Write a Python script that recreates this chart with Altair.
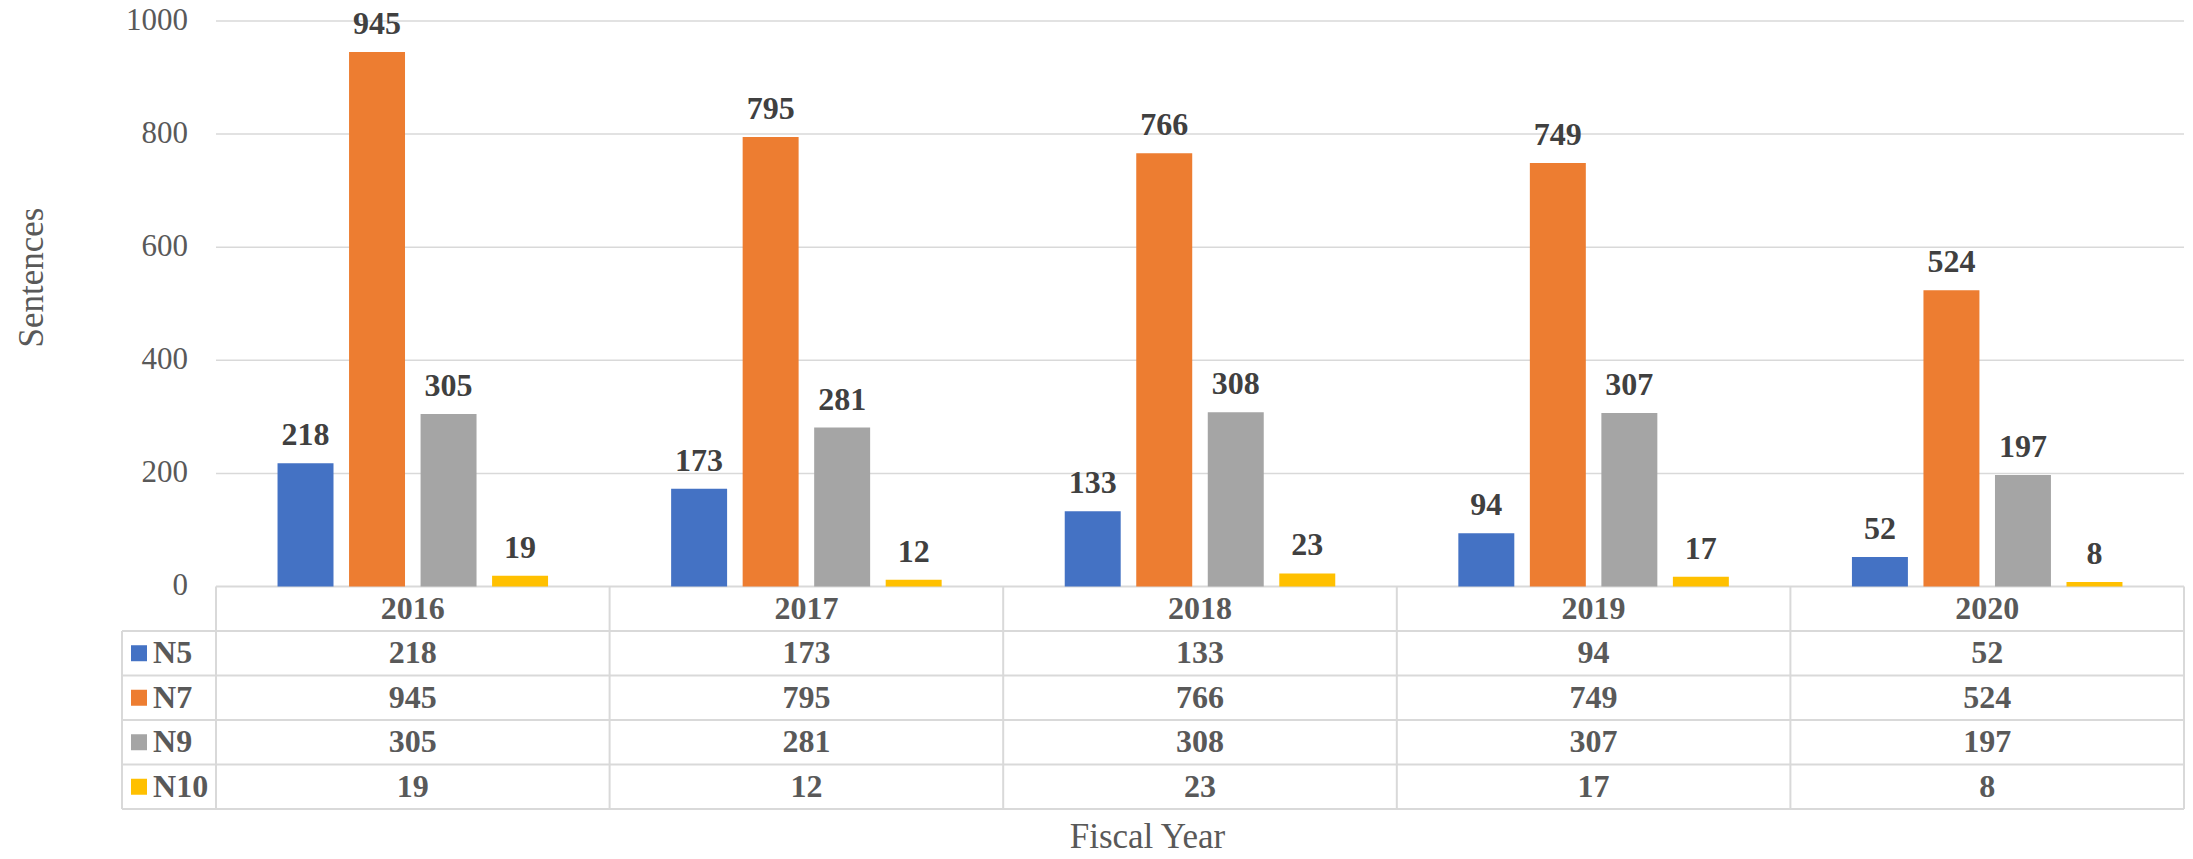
import altair as alt
import pandas as pd

# ---- data ----
years = ["2016", "2017", "2018", "2019", "2020"]
series = ["N5", "N7", "N9", "N10"]
n5 = [218, 173, 133, 94, 52]
n7 = [945, 795, 766, 749, 524]
n9 = [305, 281, 308, 307, 197]
n10 = [19, 12, 23, 17, 8]
colors = ["#4472C4", "#ED7D31", "#A5A5A5", "#FFC000"]
y_ticks = [0, 200, 400, 600, 800, 1000]
grid_values = [200, 400, 600, 800, 1000]

# ---- layout constants ----
W, H = 2062, 788
XMIN, XMAX = -0.2388, 5.0
YMIN, YMAX = -393.5, 1000.0
RH = 78.7            # table row height in y units
STEP = 0.1817        # bar step inside a year column (x units)
HALF = 0.0711        # half bar width (x units)
GC = 0.5             # group centre inside column
SQ_X = -0.1956       # legend square x
LAB_X = -0.160       # legend label x
FONT = "Liberation Serif"
GRID = "#D9D9D9"
TXT = "#595959"

values = [n5, n7, n9, n10]
ncol = len(years)
nrow = len(series)

bars = pd.DataFrame([
    {"year": y, "series": s, "value": values[k][i],
     "xc": i + GC + (k - 1.5) * STEP,
     "x0": i + GC + (k - 1.5) * STEP - HALF,
     "x1": i + GC + (k - 1.5) * STEP + HALF}
    for i, y in enumerate(years) for k, s in enumerate(series)
])

xs = alt.Scale(domain=[XMIN, XMAX], nice=False, zero=False)
ys = alt.Scale(domain=[YMIN, YMAX], nice=False, zero=False)
xaxis = alt.Axis(title="Fiscal Year", labels=False, ticks=False, domain=False, grid=False,
                 titleFont=FONT, titleFontSize=35, titleFontWeight="normal", titleColor=TXT,
                 titleX=1025, titleY=38, titleBaseline="alphabetic", titleAlign="center")
yaxis = alt.Axis(title="Sentences", labels=False, ticks=False, domain=False, grid=False,
                 titleFont=FONT, titleFontSize=35, titleFontWeight="normal", titleColor=TXT,
                 titleX=-80, titleY=256, titleBaseline="alphabetic", titleAlign="center", titleAngle=270)


def X(f):
    return alt.X(f, type="quantitative", scale=xs, axis=xaxis)


def Y(f):
    return alt.Y(f, type="quantitative", scale=ys, axis=yaxis)


color = alt.Color("series:N", scale=alt.Scale(domain=series, range=colors), legend=None)

# gridlines
grid_df = pd.DataFrame({"v": grid_values, "a": 0.0, "b": float(ncol)})
grid = alt.Chart(grid_df).mark_rule(color=GRID, strokeWidth=1.5).encode(
    x=X("a"), x2="b", y=Y("v"))

# table lines: horizontal
hl = [{"x": 0.0, "x2": float(ncol), "y": 0.0}]
for r in range(1, nrow + 2):
    hl.append({"x": XMIN, "x2": float(ncol), "y": -r * RH})
hlines = alt.Chart(pd.DataFrame(hl)).mark_rule(color=GRID, strokeWidth=2).encode(
    x=X("x"), x2="x2", y=Y("y"))

# table lines: vertical
vl = [{"x": XMIN, "y": -RH, "y2": -(nrow + 1) * RH}]
for c in range(ncol + 1):
    vl.append({"x": float(c), "y": 0.0, "y2": -(nrow + 1) * RH})
vlines = alt.Chart(pd.DataFrame(vl)).mark_rule(color=GRID, strokeWidth=2).encode(
    x=X("x"), y=Y("y"), y2="y2")

# bars
bar = alt.Chart(bars).mark_bar().encode(
    x=X("x0"), x2="x1", y=Y("value"), y2=alt.datum(0), color=color)

# data labels
lab = alt.Chart(bars).mark_text(font=FONT, fontSize=32, fontWeight="bold", color="#404040",
                                baseline="alphabetic", dy=-18).encode(
    x=X("xc"), y=Y("value"), text="value:Q")

# y tick labels
tick_df = pd.DataFrame({"v": y_ticks, "x": 0.0})
ticks = alt.Chart(tick_df).mark_text(font=FONT, fontSize=31, color=TXT, align="right",
                                     baseline="middle", dx=-28).encode(
    x=X("x"), y=Y("v"), text="v:Q")

# table header years
hdr_df = pd.DataFrame({"year": years, "x": [i + 0.5 for i in range(ncol)], "y": -0.5 * RH})
hdr = alt.Chart(hdr_df).mark_text(font=FONT, fontSize=32, fontWeight="bold", color=TXT,
                                  baseline="middle").encode(
    x=X("x"), y=Y("y"), text="year:N")

# table values
cell_df = pd.DataFrame([
    {"x": i + 0.5, "y": -(k + 1.5) * RH, "v": values[k][i]}
    for i in range(ncol) for k in range(nrow)
])
cells = alt.Chart(cell_df).mark_text(font=FONT, fontSize=32, fontWeight="bold", color=TXT,
                                     baseline="middle").encode(
    x=X("x"), y=Y("y"), text="v:Q")

# legend keys in table
leg_df = pd.DataFrame({"series": series, "y": [-(k + 1.5) * RH for k in range(nrow)],
                       "xs": SQ_X, "xl": LAB_X})
sq = alt.Chart(leg_df).mark_square(size=256, opacity=1, filled=True).encode(
    x=X("xs"), y=Y("y"), color=color)
legtxt = alt.Chart(leg_df).mark_text(font=FONT, fontSize=32, fontWeight="bold", color=TXT,
                                     align="left", baseline="middle").encode(
    x=X("xl"), y=Y("y"), text="series:N")

chart = alt.layer(grid, hlines, vlines, bar, lab, ticks, hdr, cells, sq, legtxt).properties(
    width=W, height=H,
    autosize=alt.AutoSizeParams(type="none"),
    padding={"left": 114, "top": 13, "right": 1, "bottom": 42},
).configure(font=FONT, view=alt.ViewConfig(stroke=None))

chart.save("out.html", embed_options={"renderer": "svg", "actions": False})
